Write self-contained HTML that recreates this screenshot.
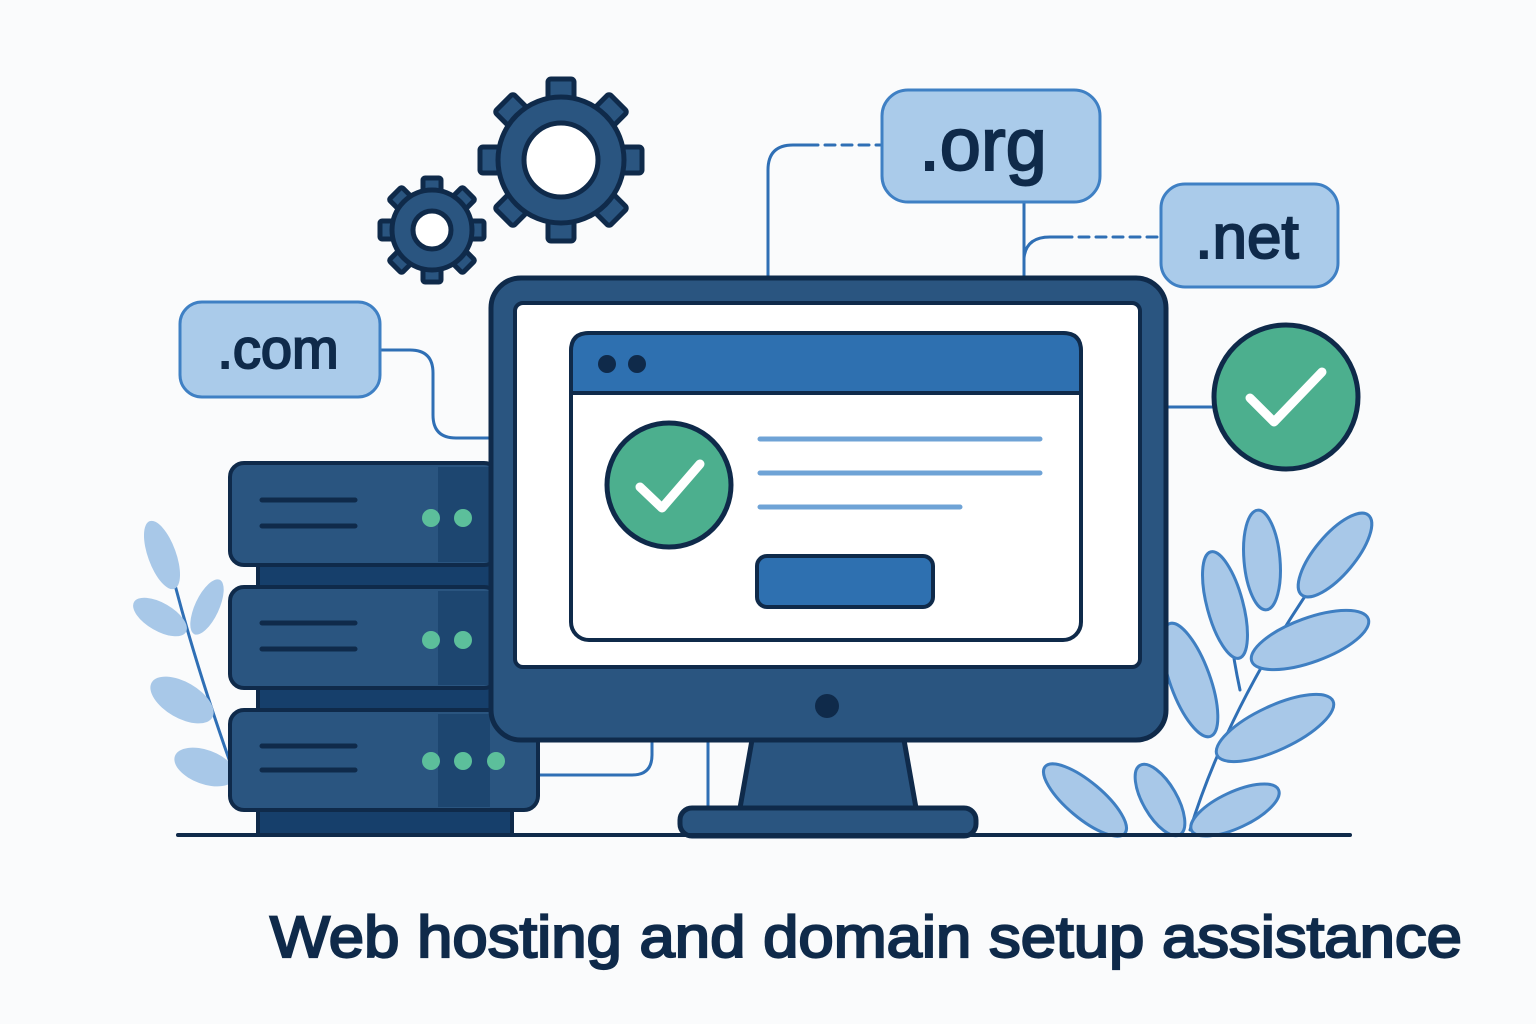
<!DOCTYPE html>
<html><head><meta charset="utf-8"><style>html,body{margin:0;padding:0;background:#fafbfc}svg{display:block}</style></head>
<body>
<svg width="1536" height="1024" viewBox="0 0 1536 1024" xmlns="http://www.w3.org/2000/svg">
<rect width="1536" height="1024" fill="#fafbfc"/>
<g stroke-linecap="round" fill="none">
<path d="M175 585 Q200 680 240 790" stroke="#2f6fb5" stroke-width="3"/>
<g fill="#a8c8e8">
<ellipse cx="162" cy="555" rx="14" ry="36" transform="rotate(-20 162 555)"/>
<ellipse cx="207" cy="607" rx="12" ry="30" transform="rotate(25 207 607)"/>
<ellipse cx="160" cy="617" rx="30" ry="14" transform="rotate(30 160 617)"/>
<ellipse cx="182" cy="700" rx="35" ry="18" transform="rotate(30 182 700)"/>
<ellipse cx="205" cy="767" rx="32" ry="17" transform="rotate(20 205 767)"/>
</g>
<path d="M1190 830 Q1230 700 1330 560" stroke="#2f6fb5" stroke-width="3"/>
<path d="M1240 690 Q1225 620 1230 580" stroke="#2f6fb5" stroke-width="3"/>
<g fill="#a8c8e8" stroke="#3f7fc2" stroke-width="3">
<ellipse cx="1262" cy="560" rx="18" ry="50" transform="rotate(-5 1262 560)"/>
<ellipse cx="1335" cy="555" rx="20" ry="52" transform="rotate(40 1335 555)"/>
<ellipse cx="1225" cy="605" rx="18" ry="55" transform="rotate(-15 1225 605)"/>
<ellipse cx="1310" cy="640" rx="22" ry="62" transform="rotate(70 1310 640)"/>
<ellipse cx="1190" cy="680" rx="20" ry="60" transform="rotate(-20 1190 680)"/>
<ellipse cx="1275" cy="728" rx="22" ry="64" transform="rotate(65 1275 728)"/>
<ellipse cx="1160" cy="800" rx="17" ry="40" transform="rotate(-30 1160 800)"/>
<ellipse cx="1085" cy="800" rx="18" ry="52" transform="rotate(-50 1085 800)"/>
<ellipse cx="1235" cy="810" rx="18" ry="48" transform="rotate(65 1235 810)"/>
</g>
<g stroke="#2f6fb5" stroke-width="3">
<path d="M768 278 V170 Q768 145 793 145 H808"/>
<path d="M808 145 H880" stroke-dasharray="10 7"/>
<path d="M1024 202 V278"/>
<path d="M1024 258 Q1026 237 1050 237 H1062"/>
<path d="M1062 237 H1160" stroke-dasharray="10 7"/>
<path d="M380 350 H410 Q433 350 433 373 V415 Q433 438 456 438 H492"/>
<path d="M1168 407 H1214"/>
<path d="M538 775 H632 Q652 775 652 755 V742"/>
<path d="M708 742 V808"/>
</g>
</g>
<g fill="#aacbea" stroke="#3f80c4" stroke-width="3">
<rect x="882" y="90" width="218" height="112" rx="26"/>
<rect x="1161" y="184" width="177" height="103" rx="24"/>
<rect x="180" y="302" width="200" height="95" rx="22"/>
</g>
<g font-family="Liberation Sans, sans-serif" fill="#0f2a4a" stroke="#0f2a4a" stroke-width="2" text-anchor="middle">
<text x="983" y="170" font-size="74">.org</text>
<text x="1247" y="258" font-size="62">.net</text>
<text x="278" y="368" font-size="56">.com</text>
</g>
<g fill="#2a5580" stroke="#0f2a4a" stroke-width="5">
<g transform="translate(561 160)">
<rect x="-13" y="-81" width="26" height="30" rx="3"/>
<rect x="-13" y="-81" width="26" height="30" rx="3" transform="rotate(45)"/>
<rect x="-13" y="-81" width="26" height="30" rx="3" transform="rotate(90)"/>
<rect x="-13" y="-81" width="26" height="30" rx="3" transform="rotate(135)"/>
<rect x="-13" y="-81" width="26" height="30" rx="3" transform="rotate(180)"/>
<rect x="-13" y="-81" width="26" height="30" rx="3" transform="rotate(225)"/>
<rect x="-13" y="-81" width="26" height="30" rx="3" transform="rotate(270)"/>
<rect x="-13" y="-81" width="26" height="30" rx="3" transform="rotate(315)"/>
<circle r="63"/>
<circle r="37" fill="#fff"/>
</g>
<g transform="translate(432 230)">
<rect x="-9" y="-52" width="18" height="20" rx="2"/>
<rect x="-9" y="-52" width="18" height="20" rx="2" transform="rotate(45)"/>
<rect x="-9" y="-52" width="18" height="20" rx="2" transform="rotate(90)"/>
<rect x="-9" y="-52" width="18" height="20" rx="2" transform="rotate(135)"/>
<rect x="-9" y="-52" width="18" height="20" rx="2" transform="rotate(180)"/>
<rect x="-9" y="-52" width="18" height="20" rx="2" transform="rotate(225)"/>
<rect x="-9" y="-52" width="18" height="20" rx="2" transform="rotate(270)"/>
<rect x="-9" y="-52" width="18" height="20" rx="2" transform="rotate(315)"/>
<circle r="40"/>
<circle r="19" fill="#fff"/>
</g>
</g>
<g stroke="#0f2a4a" stroke-width="4">
<rect x="258" y="560" width="240" height="30" fill="#163f6b"/>
<rect x="258" y="683" width="240" height="30" fill="#163f6b"/>
<rect x="258" y="805" width="254" height="30" fill="#163f6b"/>
<rect x="230" y="463" width="268" height="102" rx="14" fill="#2a5580"/>
<rect x="230" y="587" width="268" height="101" rx="14" fill="#2a5580"/>
<rect x="230" y="710" width="308" height="100" rx="14" fill="#2a5580"/>
</g>
<g fill="#1d4670">
<rect x="438" y="467" width="52" height="95"/>
<rect x="438" y="591" width="52" height="94"/>
<rect x="438" y="714" width="52" height="93"/>
</g>
<g stroke="#0f2a4a" stroke-width="5" stroke-linecap="round">
<path d="M262 500 H355 M262 526 H355 M262 623 H355 M262 649 H355 M262 746 H355 M262 770 H355"/>
</g>
<g fill="#5cbf9b">
<circle cx="431" cy="518" r="9"/><circle cx="463" cy="518" r="9"/>
<circle cx="431" cy="640" r="9"/><circle cx="463" cy="640" r="9"/>
<circle cx="431" cy="761" r="9"/><circle cx="463" cy="761" r="9"/><circle cx="496" cy="761" r="9"/>
</g>
<g stroke="#0f2a4a" stroke-width="5">
<path d="M752 740 H904 L916 808 H740 Z" fill="#2a5580"/>
<rect x="680" y="808" width="296" height="28" rx="12" fill="#2a5580"/>
<rect x="491" y="278" width="675" height="462" rx="30" fill="#2a5580"/>
<rect x="515" y="303" width="625" height="364" rx="8" fill="#fff" stroke-width="4"/>
<rect x="571" y="333" width="510" height="307" rx="18" fill="#fff" stroke-width="4"/>
<path d="M571 393 V351 Q571 333 589 333 H1063 Q1081 333 1081 351 V393 Z" fill="#2e70b0" stroke-width="4"/>
<rect x="757" y="556" width="176" height="51" rx="10" fill="#2e70b0" stroke-width="4"/>
<circle cx="669" cy="485" r="62" fill="#4caf8e"/>
<circle cx="1286" cy="397" r="72" fill="#4caf8e"/>
</g>
<circle cx="607" cy="364" r="9" fill="#0f2a4a"/>
<circle cx="637" cy="364" r="9" fill="#0f2a4a"/>
<circle cx="827" cy="706" r="12" fill="#0f2a4a"/>
<g stroke="#6fa3d6" stroke-width="5" stroke-linecap="round">
<path d="M760 439 H1040 M760 473 H1040 M760 507 H960"/>
</g>
<g stroke="#fff" stroke-width="9" stroke-linecap="round" stroke-linejoin="round" fill="none">
<path d="M640 487 L662 508 L700 464"/>
<path d="M1250 398 L1274 422 L1322 372"/>
</g>
<path d="M178 835 H1350" stroke="#0f2a4a" stroke-width="4" stroke-linecap="round"/>
<text x="270" y="957" font-family="Liberation Sans, sans-serif" font-size="58" fill="#0f2a4a" stroke="#0f2a4a" stroke-width="2.2" textLength="1192" lengthAdjust="spacingAndGlyphs">Web hosting and domain setup assistance</text>
</svg>
</body></html>
